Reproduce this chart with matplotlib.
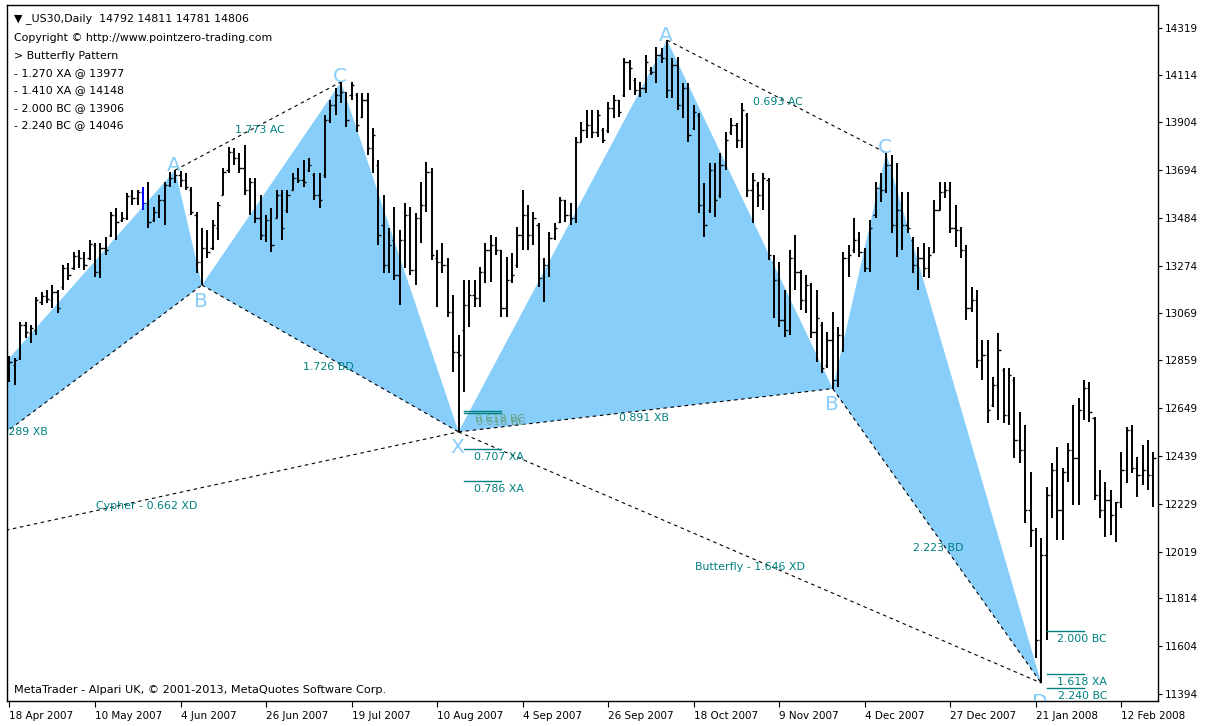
import matplotlib
matplotlib.use("Agg")
import matplotlib.pyplot as plt
from matplotlib.collections import LineCollection
from matplotlib.patches import Polygon

# ---------------- data ----------------
# daily OHLC of _US30, one entry per bar starting 18 Apr 2007
bar_high = [
    12878, 12870, 13028, 13028, 13015, 13138, 13160, 13168, 13190, 13168,
    13278, 13287, 13335, 13344, 13335, 13388, 13375, 13375, 13401, 13511,
    13528, 13511, 13594, 13608, 13608, 13621, 13643, 13533, 13586, 13643,
    13687, 13695, 13691, 13682, 13621, 13511, 13441, 13432, 13476, 13555,
    13704, 13796, 13792, 13770, 13805, 13660, 13660, 13586, 13498, 13528,
    13608, 13608, 13608, 13682, 13704, 13739, 13748, 13682, 13682, 13937,
    14003, 14055, 14082, 14038, 14082, 14034, 14034, 14034, 13880, 13739,
    13586, 13441, 13533, 13432, 13550, 13533, 13507, 13643, 13731, 13704,
    13344, 13375, 13309, 13146, 12971, 13212, 13212, 13212, 13269, 13375,
    13410, 13401, 13344, 13313, 13331, 13445, 13608, 13542, 13511, 13463,
    13309, 13423, 13463, 13577, 13564, 13550, 13840, 13906, 13959, 13959,
    13959, 13880, 13994, 14025, 14003, 14187, 14178, 14099, 14082, 14200,
    14148, 14236, 14231, 14266, 14187, 14192, 14077, 14077, 13981, 13946,
    13638, 13726, 13726, 13770, 13862, 13924, 13902, 13990, 13946, 13682,
    13643, 13682, 13660, 13322, 13291, 13168, 13344, 13410, 13256, 13234,
    13199, 13168, 13028, 12984, 13072, 13006, 13335, 13366, 13485, 13423,
    13353, 13476, 13643, 13682, 13770, 13761, 13726, 13599, 13599, 13401,
    13357, 13375, 13357, 13564, 13643, 13643, 13643, 13542, 13445, 13366,
    13182, 13168, 12949, 12949, 12786, 12980, 12826, 12826, 12786, 12633,
    12576, 12369, 12123, 12079, 12303, 12409, 12479, 12387, 12496, 12663,
    12694, 12773, 12764, 12611, 12378, 12325, 12290, 12237, 12457, 12567,
    12575, 12435, 12488, 12510, 12457,
]
bar_low = [
    12764, 12751, 12861, 12958, 12936, 12971, 13102, 13111, 13089, 13067,
    13168, 13212, 13256, 13265, 13256, 13300, 13225, 13221, 13322, 13401,
    13388, 13467, 13476, 13542, 13542, 13520, 13441, 13467, 13485, 13454,
    13621, 13638, 13621, 13608, 13498, 13243, 13190, 13309, 13344, 13388,
    13586, 13682, 13717, 13682, 13586, 13498, 13463, 13388, 13379, 13335,
    13485, 13388, 13507, 13608, 13638, 13621, 13687, 13564, 13528, 13660,
    13902, 13937, 13990, 13884, 14003, 13862, 13924, 13761, 13682, 13366,
    13243, 13243, 13212, 13102, 13265, 13234, 13190, 13375, 13511, 13300,
    13094, 13243, 13050, 12808, 12545, 12720, 13006, 13094, 13094, 13199,
    13203, 13322, 13050, 13050, 13199, 13265, 13344, 13344, 13366, 13182,
    13116, 13225, 13388, 13463, 13467, 13454, 13463, 13818, 13836, 13836,
    13840, 13814, 13858, 13924, 13928, 14016, 14047, 14025, 14016, 14034,
    14113, 14077, 14165, 14012, 14012, 13959, 13924, 13818, 13871, 13507,
    13401, 13507, 13489, 13572, 13695, 13849, 13792, 13792, 13577, 13463,
    13533, 13520, 13300, 13045, 13006, 12962, 12971, 13168, 13081, 13067,
    12958, 12852, 12804, 12826, 12735, 12742, 12896, 13225, 13331, 13313,
    13247, 13247, 13485, 13555, 13594, 13419, 13313, 13344, 13419, 13243,
    13168, 13225, 13221, 13331, 13520, 13572, 13419, 13357, 13309, 13037,
    13072, 12826, 12773, 12584, 12654, 12597, 12584, 12575, 12431, 12409,
    12145, 12040, 11552, 11442, 11631, 12167, 12070, 12070, 12325, 12224,
    12224, 12597, 12589, 12246, 12167, 12084, 12092, 12062, 12211, 12321,
    12365, 12259, 12312, 12290, 12215,
]
bar_open = [
    12795, 12839, 12870, 13015, 12980, 12993, 13116, 13142, 13124, 13160,
    13181, 13264, 13265, 13318, 13309, 13309, 13366, 13247, 13353, 13410,
    13498, 13476, 13485, 13581, 13572, 13599, 13550, 13476, 13511, 13564,
    13629, 13660, 13673, 13651, 13608, 13498, 13291, 13353, 13353, 13441,
    13586, 13695, 13774, 13748, 13704, 13608, 13643, 13485, 13410, 13476,
    13485, 13586, 13520, 13608, 13660, 13651, 13695, 13673, 13586, 13673,
    13915, 13981, 14025, 14038, 14025, 14025, 13928, 14003, 13792, 13717,
    13454, 13278, 13388, 13234, 13388, 13498, 13256, 13485, 13542, 13687,
    13309, 13291, 13278, 13072, 12896, 12993, 13102, 13146, 13133, 13247,
    13344, 13366, 13344, 13089, 13212, 13278, 13410, 13498, 13410, 13454,
    13221, 13278, 13397, 13467, 13564, 13498, 13485, 13818, 13871, 13893,
    13862, 13871, 13871, 13968, 14003, 14025, 14170, 14091, 14047, 14055,
    14135, 14126, 14200, 14187, 14047, 14157, 13981, 14055, 13880, 13937,
    13542, 13520, 13695, 13586, 13717, 13862, 13893, 13827, 13937, 13608,
    13629, 13586, 13651, 13291, 13212, 13037, 12993, 13309, 13247, 13124,
    13190, 12984, 13015, 12839, 12949, 12773, 12971, 13309, 13344, 13388,
    13335, 13265, 13498, 13616, 13608, 13717, 13454, 13520, 13454, 13388,
    13278, 13309, 13265, 13335, 13520, 13599, 13608, 13441, 13432, 13344,
    13089, 13124, 12861, 12883, 12663, 12751, 12817, 12619, 12773, 12510,
    12466, 12202, 12114, 11631, 12004, 12268, 12378, 12202, 12369, 12466,
    12431, 12641, 12738, 12606, 12268, 12202, 12246, 12180, 12237, 12378,
    12553, 12387, 12356, 12378, 12356,
]
bar_close = [
    12852, 12861, 13015, 12984, 13001, 13124, 13142, 13129, 13160, 13089,
    13264, 13234, 13318, 13309, 13278, 13370, 13247, 13353, 13344, 13498,
    13467, 13485, 13581, 13572, 13599, 13550, 13467, 13511, 13564, 13629,
    13660, 13673, 13651, 13621, 13511, 13291, 13353, 13335, 13454, 13542,
    13687, 13774, 13748, 13704, 13608, 13643, 13485, 13410, 13476, 13366,
    13586, 13441, 13586, 13660, 13651, 13643, 13717, 13586, 13564, 13915,
    13981, 14025, 14038, 13915, 14069, 13893, 14003, 13792, 13849, 13410,
    13278, 13366, 13234, 13388, 13498, 13256, 13485, 13542, 13687, 13322,
    13291, 13278, 13072, 12896, 12883, 13102, 13146, 13133, 13247, 13344,
    13366, 13344, 13089, 13212, 13234, 13410, 13498, 13410, 13485, 13221,
    13278, 13397, 13441, 13564, 13498, 13485, 13818, 13871, 13893, 13862,
    13937, 13827, 13968, 14003, 13950, 14170, 14143, 14047, 14055, 14170,
    14126, 14200, 14187, 14047, 14157, 13981, 14055, 13849, 13950, 13542,
    13454, 13695, 13564, 13717, 13827, 13893, 13827, 13959, 13608, 13651,
    13586, 13660, 13322, 13212, 13037, 12993, 13309, 13247, 13124, 13190,
    12984, 13045, 12826, 12949, 12773, 12971, 13309, 13322, 13388, 13335,
    13265, 13441, 13616, 13608, 13717, 13454, 13520, 13454, 13441, 13278,
    13309, 13265, 13322, 13520, 13599, 13608, 13441, 13432, 13344, 13089,
    13124, 12861, 12883, 12641, 12751, 12905, 12619, 12795, 12510, 12466,
    12202, 12114, 11631, 12004, 12268, 12378, 12202, 12369, 12466, 12431,
    12641, 12738, 12633, 12268, 12202, 12246, 12180, 12237, 12378, 12553,
    12387, 12356, 12378, 12356, 12431,
]
highlighted_bar = 25

# harmonic pattern pivots (bar index, price) in order X, A, B, C, D
cypher_bars = [-35, 31, 36, 62, 84]
cypher_prices = [11938, 13695, 13190, 14082, 12545]
butterfly_bars = [84, 123, 154, 164, 193]
butterfly_prices = [12545, 14266, 12735, 13770, 11442]

cypher_ratios = {"XB": "1.289 XB", "AC": "1.773 AC", "BD": "1.726 BD",
                 "XD": "Cypher - 0.662 XD"}
butterfly_ratios = {"XB": "0.891 XB", "AC": "0.693 AC", "BD": "2.223 BD",
                    "XD": "Butterfly - 1.646 XD"}

# projection levels: label, price, first bar, last bar
level_labels = ["0.618 BC", "0.618 BC", "0.707 XA", "0.786 XA",
                "2.000 BC", "1.618 XA", "2.240 BC"]
level_prices = [12638, 12627, 12469, 12329, 11672, 11482, 11420]
level_from = [85, 85, 85, 85, 194, 194, 194]
level_to = [92, 92, 92, 92, 201, 201, 201]

price_ticks = [14319, 14114, 13904, 13694, 13484, 13274, 13069, 12859,
               12649, 12439, 12229, 12019, 11814, 11604, 11394]
date_tick_bars = [0, 16, 32, 48, 64, 80, 96, 112, 128, 144, 160, 176, 192, 208]
date_tick_labels = ["18 Apr 2007", "10 May 2007", "4 Jun 2007", "26 Jun 2007",
                    "19 Jul 2007", "10 Aug 2007", "4 Sep 2007", "26 Sep 2007",
                    "18 Oct 2007", "9 Nov 2007", "4 Dec 2007", "27 Dec 2007",
                    "21 Jan 2008", "12 Feb 2008"]

header_lines = ["\u25BC _US30,Daily  14792 14811 14781 14806",
                "Copyright \u00A9 http://www.pointzero-trading.com",
                "> Butterfly Pattern",
                "- 1.270 XA @ 13977",
                "- 1.410 XA @ 14148",
                "- 2.000 BC @ 13906",
                "- 2.240 BC @ 14046"]
footer = "MetaTrader - Alpari UK, \u00A9 2001-2013, MetaQuotes Software Corp."

# ---------------- drawing ----------------
plt.rcParams["font.family"] = ["DejaVu Sans"]
W, H = 1206, 726
FILL = "#87CEFA"
TEAL = "#008080"
PX = 0.72  # points per pixel at dpi 100

fig = plt.figure(figsize=(W / 100, H / 100), dpi=100)
fig.patch.set_facecolor("white")
ax = fig.add_axes([7.3 / W, 1 - 701 / H, (1158.3 - 7.3) / W, (701 - 5) / H])
ax.set_facecolor("white")
ax.set_xlim(-0.41, 214.9)
ax.set_ylim(11363, 14420)

# pattern triangles (background)
for bars, prices in ((cypher_bars, cypher_prices), (butterfly_bars, butterfly_prices)):
    pts = list(zip(bars, prices))
    ax.add_patch(Polygon([pts[0], pts[1], pts[2]], closed=True, facecolor=FILL,
                         edgecolor="none", zorder=1))
    ax.add_patch(Polygon([pts[2], pts[3], pts[4]], closed=True, facecolor=FILL,
                         edgecolor="none", zorder=1))

# OHLC bars
n = len(bar_high)
segs, tick_segs, colors = [], [], []
for i in range(n):
    c = "#0000FF" if i == highlighted_bar else "black"
    segs.append([(i, bar_low[i]), (i, bar_high[i])])
    tick_segs.append([(i - 0.42, bar_open[i]), (i, bar_open[i])])
    tick_segs.append([(i, bar_close[i]), (i + 0.42, bar_close[i])])
    colors.append(c)
tick_colors = [c for c in colors for _ in range(2)]
ax.add_collection(LineCollection(segs, colors=colors, linewidths=1.4, zorder=3))
ax.add_collection(LineCollection(tick_segs, colors=tick_colors, linewidths=1.0, zorder=3))

# dotted connectors and ratio labels
label_offsets = {
    "cypher": {"XB": (11, -4.5), "AC": (2, -4), "BD": (-2, -8.5), "XD": (6, -5)},
    "butterfly": {"XB": (-2, -8), "AC": (1, -5.5), "BD": (1, -12.5), "XD": (0, -9.5)},
}
for name, bars, prices, ratios in (("cypher", cypher_bars, cypher_prices, cypher_ratios),
                                   ("butterfly", butterfly_bars, butterfly_prices, butterfly_ratios)):
    P = dict(zip("XABCD", zip(bars, prices)))
    for key, (a, b) in {"XB": ("X", "B"), "AC": ("A", "C"),
                        "BD": ("B", "D"), "XD": ("X", "D")}.items():
        (x0, y0), (x1, y1) = P[a], P[b]
        ax.plot([x0, x1], [y0, y1], color="black", lw=0.8,
                dashes=(3.2, 3.2), zorder=4, solid_capstyle="butt")
        dx, dy = label_offsets[name][key]
        t = ax.annotate(ratios[key], ((x0 + x1) / 2, (y0 + y1) / 2),
                        xytext=(dx * PX, dy * PX), textcoords="offset points",
                        ha="center", va="center", color=TEAL, fontsize=7.9,
                        zorder=5, annotation_clip=False)
        t.set_clip_box(ax.bbox)
        t.set_clip_on(True)

# pivot letters
letter_style = dict(color=FILL, fontsize=14.5, ha="center", va="center", zorder=5)
for bars, prices, letters in ((cypher_bars, cypher_prices, "_ABC_"),
                              (butterfly_bars, butterfly_prices, "XABCD")):
    for k, letter in enumerate(letters):
        if letter == "_":
            continue
        if letter in "AC":
            off = 5
        elif letter == "D":
            off = -19
        else:
            off = -16
        t = ax.annotate(letter, (bars[k], prices[k]),
                        xytext=(-1 * PX, off * PX),
                        textcoords="offset points", annotation_clip=False,
                        **letter_style)
        t.set_clip_box(ax.bbox)
        t.set_clip_on(True)

# projection levels
for k, lbl in enumerate(level_labels):
    faded = lbl == "0.618 BC"
    col = "#6aa58c" if faded else TEAL
    ax.plot([level_from[k], level_to[k]], [level_prices[k]] * 2,
            color=TEAL, lw=1.0, zorder=4)
    shift = 1 if (faded and k == 1) else 0
    ax.annotate(lbl, (level_to[k], level_prices[k]),
                xytext=((23 + shift) * PX, (-8 - shift) * PX), textcoords="offset points",
                ha="right", va="center", color=col, fontsize=7.9, zorder=5)

# axes styling
for sp in ax.spines.values():
    sp.set_color("black")
    sp.set_linewidth(1.0)
ax.yaxis.tick_right()
ax.set_yticks(price_ticks)
ax.set_yticklabels([str(v) for v in price_ticks])
ax.set_xticks(date_tick_bars)
ax.set_xticklabels(date_tick_labels)
ax.tick_params(axis="y", which="both", right=True, left=False, direction="out",
               length=4 * PX, width=0.8, pad=2, labelsize=7.5, colors="black")
ax.tick_params(axis="x", which="both", direction="out", length=6 * PX, width=0.8,
               pad=3, labelsize=7.5, colors="black")
for lbl in ax.get_xticklabels():
    lbl.set_ha("left")

# header and footer texts
for k, line in enumerate(header_lines):
    ypix = 18.3 if k == 0 else 38.3 + (k - 1) * 17.4
    fig.text(14 / W, 1 - ypix / H, line, fontsize=7.9, ha="left", va="center",
             color="black")
fig.text(14 / W, 1 - 690 / H, footer, fontsize=8.1, ha="left", va="center",
         color="black")

fig.savefig("out.png", dpi=100, facecolor="white")
